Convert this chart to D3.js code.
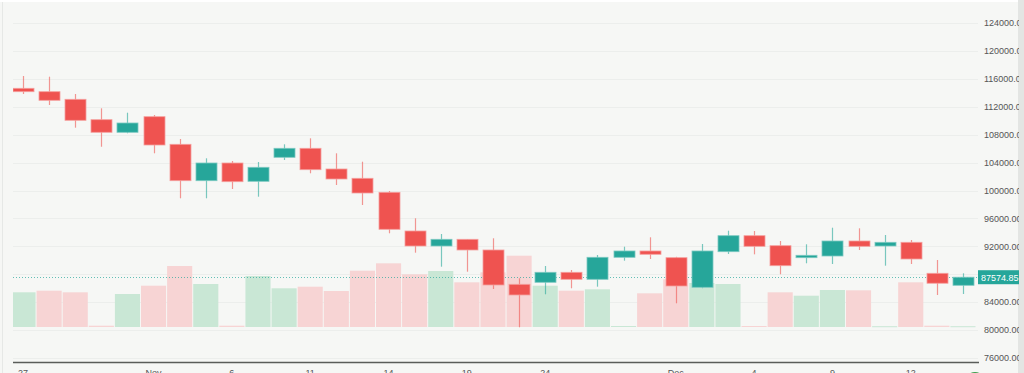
<!DOCTYPE html>
<html>
<head>
<meta charset="utf-8">
<script src="https://cdn.jsdelivr.net/npm/d3@7/dist/d3.min.js"></script>
<style>
  html, body { margin: 0; padding: 0; background: #f6f7f5; }
  svg { display: block; }
</style>
</head>
<body>
<svg id="chart" width="1024" height="373"></svg>
<script>
// ---- data ----
const dates = ["2025-10-27","2025-10-28","2025-10-29","2025-10-30","2025-10-31",
  "2025-11-03","2025-11-04","2025-11-05","2025-11-06","2025-11-07",
  "2025-11-10","2025-11-11","2025-11-12","2025-11-13","2025-11-14",
  "2025-11-17","2025-11-18","2025-11-19","2025-11-20","2025-11-21",
  "2025-11-24","2025-11-25","2025-11-26","2025-11-27","2025-11-28",
  "2025-12-01","2025-12-02","2025-12-03","2025-12-04","2025-12-05",
  "2025-12-08","2025-12-09","2025-12-10","2025-12-11","2025-12-12",
  "2025-12-15","2025-12-16"];
const opens  = [114644,114157,113068,110145,108340,110575,106620,101405,103941,101318,
  104757,106047,103081,101749,99743,94198,92049,93008,91476,86561,
  86848,88280,87277,90430,91333,90373,86130,91232,93524,92091,
  90373,90616,92765,92049,92578,88137,86418];
const highs  = [116406,116307,113827,111777,111148,110818,107380,104614,104227,104084,
  106620,107480,105330,104127,99929,96018,93768,93008,93152,87421,
  89183,88610,90759,91949,93295,90500,92335,94241,94198,92765,
  92292,94671,94584,93625,92908,90044,88137];
const lows   = [113827,112251,109000,106272,108200,105330,98883,98883,100215,99112,
  104371,102465,100789,97923,93868,91089,89082,88366,85888,80400,
  85128,85988,86217,89943,90182,83838,86000,90902,90855,88000,
  89570,89470,91476,89226,89470,85028,85171];
const closes = [114157,112924,110059,108340,109672,106520,101405,103941,101262,103325,
  106047,102981,101648,99642,94442,92049,93008,91476,86461,85028,
  88280,87277,90430,91333,90860,86317,91333,93524,92006,89226,
  90716,92765,92006,92578,90186,86713,87574.85];
const volumes = [34700,36300,34700,1300,33000,41300,61000,43000,1300,51000,
  38700,40300,36000,56300,63700,52700,56000,44700,54700,71300,
  41300,36300,37700,1000,33700,47700,44000,43000,1000,34700,
  31300,37000,36700,800,44700,1300,800];
const prevClose = 111500;
const lastPrice = 87574.85;
const priceTicks = [76000,80000,84000,88000,92000,96000,100000,104000,108000,112000,116000,120000,124000];
const axisTicks = [76000,80000,84000,92000,96000,100000,104000,108000,112000,116000,120000,124000];
const xLabels = [["2025-10-27","27"],["2025-11-03","Nov"],["2025-11-06","6"],["2025-11-11","11"],
  ["2025-11-14","14"],["2025-11-19","19"],["2025-11-24","24"],["2025-12-01","Dec"],
  ["2025-12-04","4"],["2025-12-09","9"],["2025-12-12","12"]];

// ---- layout ----
const W = 1024, H = 373;
const plotL = 13, plotR = 978;
const UP = "#26a69a", DOWN = "#ef5350";
const UP_VOL = "#c9e7d5", DOWN_VOL = "#f7d4d4";
const FONT = "'Liberation Sans', Arial, sans-serif";

const svg = d3.select("#chart");
svg.append("rect").attr("width", W).attr("height", H).attr("fill", "#f6f7f5");
svg.append("rect").attr("x", 0).attr("y", 0).attr("width", W).attr("height", 2).attr("fill", "#ffffff");
svg.append("line").attr("x1", 2.5).attr("x2", 2.5).attr("y1", 2).attr("y2", H).attr("stroke", "#e6e8e6");
svg.append("rect").attr("x", 1018).attr("y", 0).attr("width", 6).attr("height", H).attr("fill", "#e3e5e3");

const step = 26.11;
const x = d3.scaleBand().domain(dates).range([23 - step / 2, 23 - step / 2 + step * dates.length]).padding(0);
const cx = d => x(d) + x.bandwidth() / 2;
const y = d3.scaleLinear().domain([76000, 124000]).range([358, 23]);
const yv = d3.scaleLinear().domain([0, 100000]).range([327, 227]);

svg.append("defs").append("clipPath").attr("id", "plotClip")
  .append("rect").attr("x", plotL).attr("y", 0).attr("width", plotR - plotL).attr("height", H);

// grid
svg.append("g").selectAll("line").data(priceTicks).join("line")
  .attr("x1", plotL).attr("x2", plotR)
  .attr("y1", d => Math.round(y(d)) + 0.5).attr("y2", d => Math.round(y(d)) + 0.5)
  .attr("stroke", "#eceeec").attr("stroke-width", 1);

const plot = svg.append("g").attr("clip-path", "url(#plotClip)");

// volume
const vdata = dates.map((d, i) => ({d, v: volumes[i], up: closes[i] >= (i === 0 ? prevClose : closes[i - 1])}));
plot.append("g").selectAll("rect").data(vdata).join("rect")
  .attr("x", d => x(d.d) + 0.5)
  .attr("width", x.bandwidth() - 1)
  .attr("y", d => yv(d.v))
  .attr("height", d => Math.max(1, yv(0) - yv(d.v)))
  .attr("fill", d => d.up ? UP_VOL : DOWN_VOL);

// last price line
plot.append("line")
  .attr("x1", plotL).attr("x2", plotR)
  .attr("y1", Math.round(y(lastPrice)) + 0.5).attr("y2", Math.round(y(lastPrice)) + 0.5)
  .attr("stroke", UP).attr("stroke-opacity", 0.7).attr("stroke-dasharray", "1,2");

// candles
const cdata = dates.map((d, i) => ({d, o: opens[i], h: highs[i], l: lows[i], c: closes[i]}));
const cg = plot.append("g").selectAll("g").data(cdata).join("g");
cg.append("line")
  .attr("x1", d => Math.round(cx(d.d)) + 0.5).attr("x2", d => Math.round(cx(d.d)) + 0.5)
  .attr("y1", d => y(d.h)).attr("y2", d => y(d.l))
  .attr("stroke", d => d.c >= d.o ? UP : DOWN).attr("stroke-opacity", 0.6).attr("stroke-width", 1.2);
cg.append("rect")
  .attr("x", d => Math.round(cx(d.d)) - 10)
  .attr("width", 21)
  .attr("y", d => y(Math.max(d.o, d.c)))
  .attr("height", d => Math.max(2, y(Math.min(d.o, d.c)) - y(Math.max(d.o, d.c))))
  .attr("fill", d => d.c >= d.o ? UP : DOWN)
  .attr("stroke", d => d.c >= d.o ? "#7cc9c1" : "#f59f9d")
  .attr("stroke-width", 0.8);

// bottom axis line
svg.append("line").attr("x1", plotL).attr("x2", plotR + 1).attr("y1", 362.5).attr("y2", 362.5)
  .attr("stroke", "#5a5d5a").attr("stroke-width", 1.5);

// x labels
svg.append("g").selectAll("text").data(xLabels).join("text")
  .attr("x", d => cx(d[0])).attr("y", 376)
  .attr("text-anchor", "middle")
  .attr("font-family", FONT).attr("font-size", 9).attr("fill", "#555")
  .text(d => d[1]);

// y axis labels
svg.append("g").selectAll("text").data(axisTicks).join("text")
  .attr("x", 984).attr("y", d => y(d) + 3.3)
  .attr("font-family", FONT).attr("font-size", 9).attr("fill", "#555")
  .text(d => d3.format(".2f")(d));

// last price label
svg.append("rect").attr("x", 978).attr("y", y(lastPrice) - 7).attr("width", 41).attr("height", 14).attr("fill", UP);
svg.append("text").attr("x", 981).attr("y", y(lastPrice) + 3.3)
  .attr("font-family", FONT).attr("font-size", 9).attr("fill", "#fff")
  .text(d3.format(".2f")(lastPrice));

// right strip on top of labels
svg.append("rect").attr("x", 1019).attr("y", 0).attr("width", 5).attr("height", H).attr("fill", "#e3e5e3");

// bottom green button
svg.append("circle").attr("cx", 975).attr("cy", 382).attr("r", 10).attr("fill", "#3f9d4f");
</script>
</body>
</html>
